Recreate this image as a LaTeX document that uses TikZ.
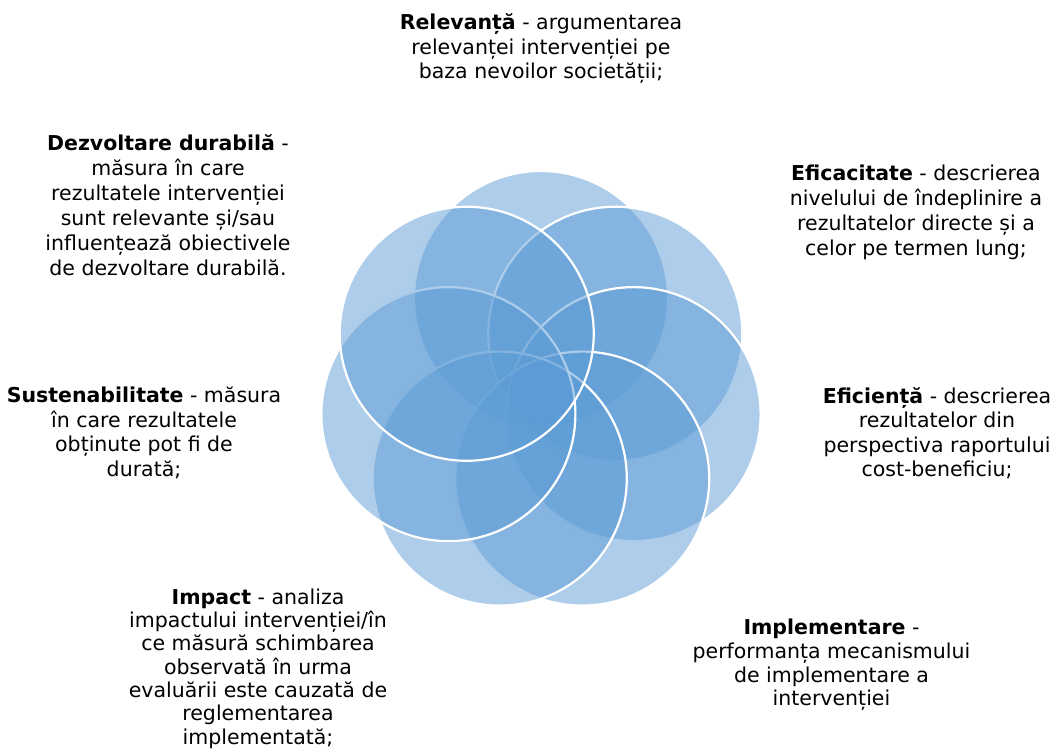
\documentclass[tikz,border=0pt]{standalone}
\usepackage{fontspec}
\setmainfont{DejaVu Sans}
\usetikzlibrary{calc}
\definecolor{petalblue}{HTML}{5B9BD5}
\begin{document}
\begin{tikzpicture}[x=1pt,y=-1pt,
  petal/.style={circle, minimum size=254pt, inner sep=0pt, fill=petalblue, fill opacity=0.5, draw=white, draw opacity=1, line width=2.2pt},
  lbl/.style={align=center, inner sep=0pt, text=black, font=\fontsize{20.5}{#1}\selectfont},
  lbl/.default=24.5]
\useasboundingbox (0,0) rectangle (1058,754);
\coordinate (ring) at (541,393);
\foreach \i in {0,...,6}{
  \node[petal] (c\i) at ($(ring)+({90-\i*360/7}:95 and -95)$) {};
}
\node[lbl] (rel) at (541,48.5) {\textbf{Relevanță} - argumentarea\\relevanței intervenției pe\\baza nevoilor societății;};
\node[lbl=25] (dez) at (168,205.5) {\textbf{Dezvoltare durabilă} -\\măsura în care\\rezultatele intervenției\\sunt relevante și/sau\\influențează obiectivele\\de dezvoltare durabilă.};
\node[lbl=25] (efc) at (916,212) {\textbf{Eficacitate} - descrierea\\nivelului de îndeplinire a\\rezultatelor directe și a\\celor pe termen lung;};
\node[lbl] (sus) at (144,433) {\textbf{Sustenabilitate} - măsura\\în care rezultatele\\obținute pot fi de\\durată;};
\node[lbl] (efi) at (937,433) {\textbf{Eficiență} - descrierea\\rezultatelor din\\perspectiva raportului\\cost-beneficiu;};
\node[lbl=23.3] (imp) at (258,668.5) {\textbf{Impact} - analiza\\impactului intervenției/în\\ce măsură schimbarea\\observată în urma\\evaluării este cauzată de\\reglementarea\\implementată;};
\node[lbl=23.7] (imt) at (831.5,665) {\textbf{Implementare} -\\performanța mecanismului\\de implementare a\\intervenției};
\end{tikzpicture}
\end{document}
